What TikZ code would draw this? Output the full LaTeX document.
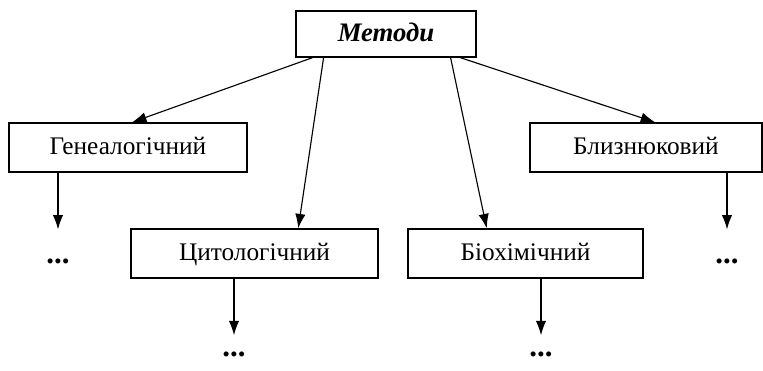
\documentclass[tikz,border=0pt]{standalone}
\usepackage{fontspec}
\setmainfont{Liberation Serif}
\usetikzlibrary{arrows.meta,calc}

\begin{document}
\begin{tikzpicture}[
  x=0.025cm, y=-0.025cm,
  box/.style={draw, line width=1pt, minimum height=1.225cm, inner sep=0pt, text height=13pt, text depth=2.4pt, font=\fontsize{18}{21}\selectfont},
  dots/.style={inner sep=0pt, font=\fontsize{22}{24}\selectfont\bfseries},
  arr/.style={draw, line width=0.8pt, -{Latex[length=3.6mm,width=2.6mm]}}
]
\useasboundingbox (0,0) rectangle (763,370);
% boxes
\node[box, minimum width=4.5cm, minimum height=1.15cm, font=\fontsize{19}{22}\selectfont\bfseries\itshape] (metody) at (386,34) {Методи};
\node[box, minimum width=5.95cm] (geneal) at (128,147.5) {Генеалогічний};
\node[box, minimum width=6.175cm] (cyto) at (254.5,253.5) {Цитологічний};
\node[box, minimum width=5.875cm] (biochem) at (525.5,253.5) {Біохімічний};
\node[box, minimum width=5.8cm] (twin) at (646,147.5) {Близнюковий};
% dots
\node[dots] (gdots) at (58,261) {...};
\node[dots] (cdots) at (234,354) {...};
\node[dots] (bdots) at (541,354) {...};
\node[dots] (tdots) at (727,261) {...};
% arrows from top
\draw[arr] ($(metody.south west)!.094!(metody.south east)$) -- ($(geneal.north west)!.517!(geneal.north east)$);
\draw[arr] ($(metody.south west)!.156!(metody.south east)$) -- ($(cyto.north west)!.676!(cyto.north east)$);
\draw[arr] ($(metody.south west)!.856!(metody.south east)$) -- ($(biochem.north west)!.336!(biochem.north east)$);
\draw[arr] ($(metody.south west)!.911!(metody.south east)$) -- ($(twin.north west)!.539!(twin.north east)$);
% arrows down
\draw[arr, shorten >=0.72cm] (geneal.south -| gdots) -- (gdots);
\draw[arr, shorten >=0.4cm] (cyto.south -| cdots) -- (cdots);
\draw[arr, shorten >=0.4cm] (biochem.south -| bdots) -- (bdots);
\draw[arr, shorten >=0.72cm] (twin.south -| tdots) -- (tdots);
\end{tikzpicture}
\end{document}
